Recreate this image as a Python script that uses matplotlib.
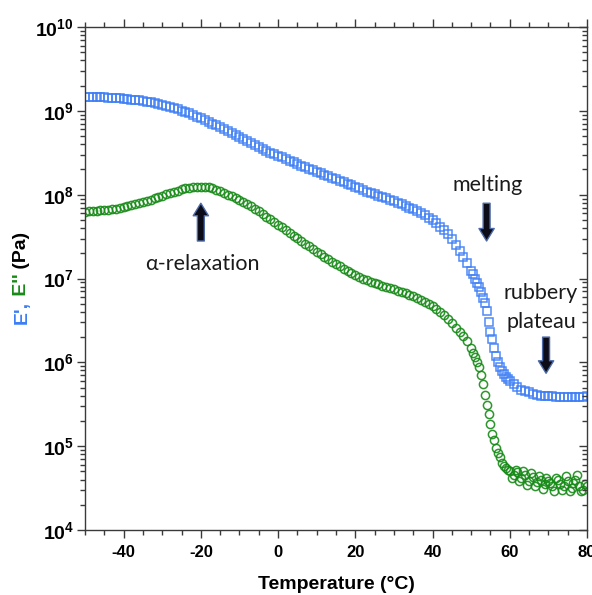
import matplotlib
matplotlib.use("Agg")
import matplotlib.pyplot as plt
from matplotlib.ticker import LogLocator, NullFormatter, FixedLocator, MultipleLocator
from matplotlib.transforms import IdentityTransform

plt.rcParams['font.family'] = ['Liberation Sans', 'DejaVu Sans']
plt.rcParams['mathtext.fontset'] = 'custom'
plt.rcParams['mathtext.rm'] = 'Liberation Sans:bold'
plt.rcParams['mathtext.bf'] = 'Liberation Sans:bold'
plt.rcParams['mathtext.it'] = 'Liberation Sans:bold'

# ---------------- data ----------------
temp_storage = [-50, -49, -48, -47, -46, -45, -44, -43, -42, -41, -40, -39, -38, -37, -36,
                -35, -34, -33, -32, -31, -30, -29, -28, -27, -26, -25, -24, -23, -22, -21,
                -20, -19, -18, -17, -16, -15, -14, -13, -12, -11, -10, -9, -8, -7, -6,
                -5, -4, -3, -2, -1, 0, 1, 2, 3, 4, 5, 6, 7, 8, 9,
                10, 11, 12, 13, 14, 15, 16, 17, 18, 19, 20, 21, 22, 23, 24,
                25, 26, 27, 28, 29, 30, 31, 32, 33, 34, 35, 36, 37, 38, 39,
                40, 41, 42, 43, 44, 45, 46, 47, 48, 49, 50, 50.5, 51, 51.5, 52,
                52.5, 53, 53.5, 54, 54.5, 55, 55.5, 56, 56.5, 57, 57.5, 58, 58.5, 59, 59.5,
                60, 61, 62, 63, 64, 65, 66, 67, 68, 69, 70, 71, 72, 73, 74,
                75, 76, 77, 78, 79, 80]
E_storage = [1.48e9, 1.48e9, 1.47e9, 1.46e9, 1.46e9, 1.45e9, 1.44e9, 1.43e9, 1.42e9, 1.41e9,
             1.39e9, 1.38e9, 1.36e9, 1.35e9, 1.33e9, 1.31e9, 1.29e9, 1.26e9, 1.23e9, 1.20e9,
             1.17e9, 1.14e9, 1.11e9, 1.07e9, 1.04e9, 1.00e9, 9.73e8, 9.33e8, 8.91e8, 8.51e8,
             8.13e8, 7.76e8, 7.41e8, 7.05e8, 6.70e8, 6.37e8, 6.03e8, 5.71e8, 5.41e8, 5.13e8,
             4.85e8, 4.59e8, 4.35e8, 4.11e8, 3.89e8, 3.69e8, 3.50e8, 3.33e8, 3.16e8, 3.02e8,
             2.90e8, 2.79e8, 2.67e8, 2.55e8, 2.43e8, 2.32e8, 2.22e8, 2.12e8, 2.03e8, 1.95e8,
             1.87e8, 1.79e8, 1.72e8, 1.65e8, 1.58e8, 1.52e8, 1.46e8, 1.40e8, 1.34e8, 1.29e8,
             1.24e8, 1.19e8, 1.14e8, 1.09e8, 1.05e8, 1.01e8, 9.72e7, 9.38e7, 9.04e7, 8.71e7,
             8.36e7, 8.02e7, 7.69e7, 7.35e7, 7.02e7, 6.67e7, 6.34e7, 6.00e7, 5.65e7, 5.30e7,
             4.94e7, 4.57e7, 4.17e7, 3.76e7, 3.35e7, 2.95e7, 2.51e7, 2.14e7, 1.82e7, 1.55e7,
             1.23e7, 1.12e7, 1.00e7, 8.91e6, 7.94e6, 6.92e6, 5.89e6, 5.13e6, 4.07e6, 3.02e6,
             2.29e6, 1.91e6, 1.48e6, 1.20e6, 1.02e6, 8.91e5, 7.94e5, 7.24e5, 6.76e5, 6.31e5,
             6.03e5, 5.50e5, 5.13e5, 4.73e5, 4.52e5, 4.37e5, 4.22e5, 4.09e5, 4.01e5, 3.96e5,
             3.94e5, 3.92e5, 3.90e5, 3.89e5, 3.91e5, 3.88e5, 3.90e5, 3.89e5, 3.91e5, 3.90e5,
             3.92e5]

temp_loss = [-50, -49, -48, -47, -46, -45, -44, -43, -42, -41, -40, -39, -38, -37, -36,
             -35, -34, -33, -32, -31, -30, -29, -28, -27, -26, -25, -24, -23, -22, -21,
             -20, -19, -18, -17, -16, -15, -14, -13, -12, -11, -10, -9, -8, -7, -6,
             -5, -4, -3, -2, -1, 0, 1, 2, 3, 4, 5, 6, 7, 8, 9,
             10, 11, 12, 13, 14, 15, 16, 17, 18, 19, 20, 21, 22, 23, 24,
             25, 26, 27, 28, 29, 30, 31, 32, 33, 34, 35, 36, 37, 38, 39,
             40, 41, 42, 43, 44, 45, 46, 47, 48, 49, 50, 50.5, 51, 51.5, 52,
             52.5, 53, 53.5, 54, 54.5, 55, 55.5, 56, 56.5, 57, 57.5, 58, 58.5, 59, 59.5,
             60, 60.5, 61, 61.5, 62, 62.5, 63, 63.5, 64, 64.5, 65, 65.5, 66, 66.5, 67,
             67.5, 68, 68.5, 69, 69.5, 70, 70.5, 71, 71.5, 72, 72.5, 73, 73.5, 74, 74.5,
             75, 75.5, 76, 76.5, 77, 77.5, 78, 78.5, 79, 79.5, 80]
E_loss = [6.27e7, 6.31e7, 6.37e7, 6.43e7, 6.49e7, 6.56e7, 6.64e7, 6.73e7, 6.82e7, 6.93e7,
          7.08e7, 7.24e7, 7.45e7, 7.66e7, 7.89e7, 8.13e7, 8.39e7, 8.71e7, 9.04e7, 9.38e7,
          9.73e7, 1.01e8, 1.05e8, 1.09e8, 1.12e8, 1.16e8, 1.19e8, 1.21e8, 1.23e8, 1.24e8,
          1.25e8, 1.24e8, 1.22e8, 1.19e8, 1.15e8, 1.10e8, 1.05e8, 1.00e8, 9.53e7, 9.04e7,
          8.55e7, 8.09e7, 7.66e7, 7.24e7, 6.76e7, 6.31e7, 5.86e7, 5.45e7, 5.06e7, 4.70e7,
          4.37e7, 4.07e7, 3.78e7, 3.51e7, 3.25e7, 3.02e7, 2.81e7, 2.61e7, 2.42e7, 2.25e7,
          2.09e7, 1.95e7, 1.82e7, 1.70e7, 1.58e7, 1.49e7, 1.40e7, 1.31e7, 1.24e7, 1.17e7,
          1.11e7, 1.05e7, 1.00e7, 9.55e6, 9.16e6, 8.81e6, 8.51e6, 8.24e6, 7.98e6, 7.73e6,
          7.45e6, 7.18e6, 6.92e6, 6.64e6, 6.37e6, 6.11e6, 5.86e6, 5.60e6, 5.31e6, 5.01e6,
          4.70e6, 4.37e6, 4.03e6, 3.67e6, 3.31e6, 2.95e6, 2.57e6, 2.29e6, 2.04e6, 1.78e6,
          1.48e6, 1.29e6, 1.15e6, 1.02e6, 8.71e5, 7.08e5, 5.50e5, 4.07e5, 3.09e5, 2.40e5,
          1.86e5, 1.41e5, 1.20e5, 9.55e4, 8.32e4, 7.41e4, 6.31e4, 5.75e4, 5.50e4, 5.25e4,
          5.01e4, 4.17e4, 4.57e4, 5.25e4, 4.90e4, 3.80e4, 4.17e4, 5.01e4, 4.47e4, 3.47e4,
          3.80e4, 4.79e4, 4.27e4, 3.31e4, 3.72e4, 4.37e4, 3.98e4, 3.09e4, 3.55e4, 4.17e4,
          3.89e4, 3.63e4, 3.31e4, 2.95e4, 4.17e4, 3.98e4, 3.55e4, 3.02e4, 3.39e4, 4.37e4,
          3.80e4, 2.88e4, 3.16e4, 3.63e4, 3.98e4, 4.57e4, 3.31e4, 2.95e4, 3.02e4, 3.55e4,
          3.39e4]

x_major = [-40, -20, 0, 20, 40, 60, 80]
x_labels = ['-40', '-20', '0', '20', '40', '60', '80']
y_exponents = [4, 5, 6, 7, 8, 9, 10]

BLUE = '#3D7EF5'
GREEN = '#178A17'
AXCOL = '#3a3a3a'

# ---------------- figure ----------------
fig = plt.figure(figsize=(5.92, 5.95), dpi=100)
ax = fig.add_axes([85 / 592, 1 - 530 / 595, (587 - 85) / 592, (530 - 27) / 595])

ax.plot(temp_storage, E_storage, linestyle='none', marker='s', markersize=5.6,
        markerfacecolor='none', markeredgecolor=BLUE, markeredgewidth=1.1, alpha=0.9)
ax.plot(temp_loss, E_loss, linestyle='none', marker='o', markersize=5.9,
        markerfacecolor='none', markeredgecolor=GREEN, markeredgewidth=1.1, alpha=0.9)

ax.set_yscale('log')
ax.set_xlim(-50, 80)
ax.set_ylim(1e4, 1e10)

ax.xaxis.set_major_locator(FixedLocator(x_major))
ax.set_xticklabels(x_labels)
ax.xaxis.set_minor_locator(MultipleLocator(5))
ax.yaxis.set_major_locator(FixedLocator([10.0 ** e for e in y_exponents]))
ax.set_yticklabels([r'$\mathbf{10^{%d}}$' % e for e in y_exponents])
ax.yaxis.set_minor_locator(LogLocator(base=10, subs=range(2, 10), numticks=20))
ax.yaxis.set_minor_formatter(NullFormatter())

for sp in ax.spines.values():
    sp.set_color(AXCOL)
    sp.set_linewidth(1.0)

ax.tick_params(axis='x', which='both', direction='out', top=True, bottom=True,
               colors=AXCOL, labelcolor='black')
ax.tick_params(axis='x', which='major', length=6, width=1.0, pad=5, labelsize=12)
ax.tick_params(axis='x', which='minor', length=3.8, width=1.0)
ax.tick_params(axis='y', which='both', direction='out', left=True, right=False,
               colors=AXCOL, labelcolor='black')
ax.tick_params(axis='y', which='major', length=6, width=1.0, pad=2, labelsize=14)
ax.tick_params(axis='y', which='minor', length=3.8, width=1.0)
for lab in ax.get_xticklabels():
    lab.set_fontweight('bold')

# right-side ticks pointing inward
ax2 = ax.twinx()
ax2.set_yscale('log')
ax2.set_ylim(1e4, 1e10)
ax2.yaxis.set_major_locator(FixedLocator([10.0 ** e for e in y_exponents]))
ax2.yaxis.set_minor_locator(LogLocator(base=10, subs=range(2, 10), numticks=20))
ax2.yaxis.set_minor_formatter(NullFormatter())
ax2.tick_params(axis='y', which='both', direction='in', colors=AXCOL, labelright=False)
ax2.tick_params(axis='y', which='major', length=6, width=1.0)
ax2.tick_params(axis='y', which='minor', length=3.8, width=1.0)
for sp in ax2.spines.values():
    sp.set_visible(False)

ax.set_xlabel('Temperature (\u00b0C)', fontsize=14, fontweight='bold', labelpad=11)

# ---------------- annotations ----------------
ANN_FONT = ['Lato', 'DejaVu Sans']
arrow_kw = dict(arrowstyle='simple,head_width=1.1,head_length=0.9,tail_width=0.5',
                fc='#0c0c18', ec='#4d6aa8', lw=1.0, mutation_scale=10, shrinkA=0, shrinkB=0)
ax.annotate('', xy=(54.0, 2.8e7), xytext=(54.0, 7.9e7), arrowprops=arrow_kw)
ax.annotate('', xy=(69.4, 7.4e5), xytext=(69.4, 2.0e6), arrowprops=arrow_kw)
ax.annotate('', xy=(-20.0, 7.9e7), xytext=(-20.0, 2.8e7), arrowprops=arrow_kw)

ANN_SIZE = 15.5
ax.text(54.3, 1.30e8, 'melting', ha='center', va='center', fontsize=ANN_SIZE,
        family=ANN_FONT, color='#1a1a1a')
ax.text(-19.7, 1.49e7, '\u03b1-relaxation', ha='center', va='center', fontsize=ANN_SIZE,
        family=ANN_FONT, color='#1a1a1a')
ax.text(68.1, 6.7e6, 'rubbery', ha='center', va='center', fontsize=ANN_SIZE,
        family=ANN_FONT, color='#1a1a1a')
ax.text(68.1, 3.0e6, 'plateau', ha='center', va='center', fontsize=ANN_SIZE,
        family=ANN_FONT, color='#1a1a1a')

# ---------------- multicolour y label ----------------
fig.canvas.draw()
renderer = fig.canvas.get_renderer()
pieces = [("E',", BLUE), (" E''", GREEN), (" (Pa)", 'black')]
texts = []
for s, c in pieces:
    t = fig.text(0, 0, s, color=c, rotation=90, ha='center', va='bottom',
                 fontsize=14, fontweight='bold', transform=IdentityTransform())
    texts.append(t)
heights = [t.get_window_extent(renderer).height for t in texts]
y0 = (595 - 278) - sum(heights) / 2
for t, h in zip(texts, heights):
    t.set_position((22, y0))
    y0 += h

fig.savefig('out.png', dpi=100)
